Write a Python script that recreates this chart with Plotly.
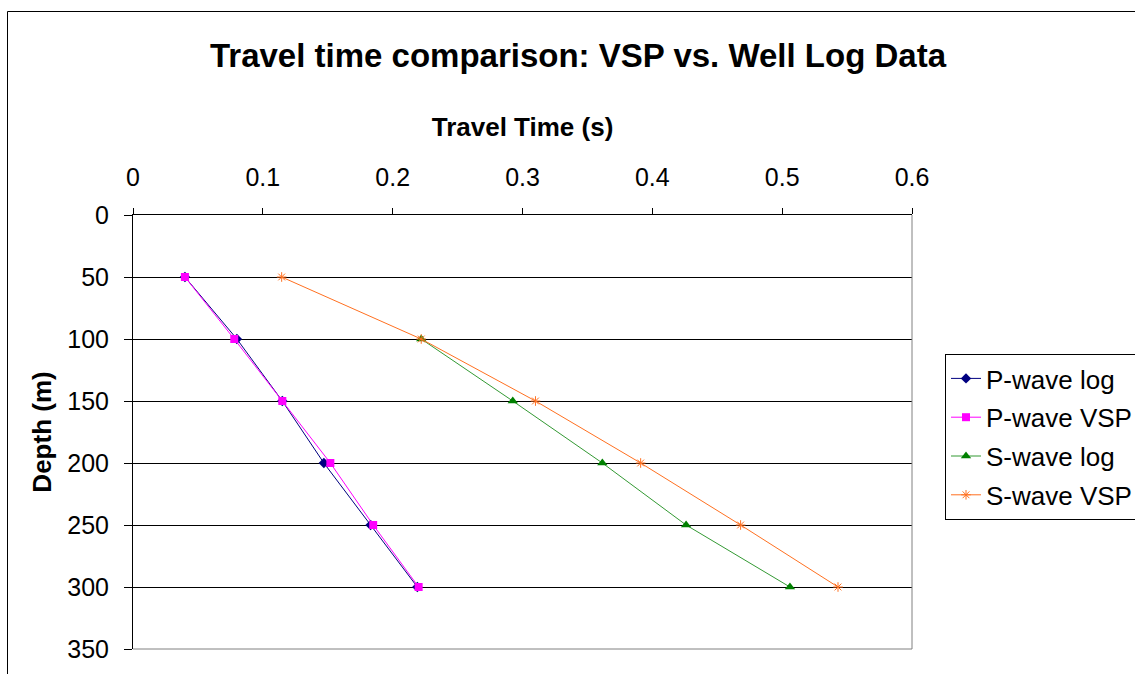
import plotly.graph_objects as go

depth = [50, 100, 150, 200, 250, 300]
depth_s_log = [100, 150, 200, 250, 300]

p_log = [0.040, 0.080, 0.115, 0.147, 0.183, 0.219]
p_vsp = [0.040, 0.078, 0.115, 0.152, 0.185, 0.220]
s_log = [0.222, 0.2925, 0.3615, 0.426, 0.506]
s_vsp = [0.1145, 0.222, 0.310, 0.391, 0.468, 0.543]

x_ticks = [0, 0.1, 0.2, 0.3, 0.4, 0.5, 0.6]
x_tick_text = ["0", "0.1", "0.2", "0.3", "0.4", "0.5", "0.6"]
y_ticks = [0, 50, 100, 150, 200, 250, 300, 350]

FONT = "Liberation Sans, Arial, sans-serif"

W, H = 1135, 674
ML, MR, MT, MB = 133, 223, 215, 25
PW, PH = W - ML - MR, H - MT - MB


def px_to_paper_x(px):
    return (px - ML) / PW


def px_to_paper_y(py):
    return (H - MB - py) / PH


fig = go.Figure()

fig.add_trace(go.Scatter(
    x=p_log, y=depth, name="P-wave log", mode="lines+markers",
    line=dict(color="#000080", width=1),
    marker=dict(symbol="diamond", size=8, color="#000080"),
    legendgroup="a"))
fig.add_trace(go.Scatter(
    x=p_vsp, y=depth, name="P-wave VSP", mode="lines+markers",
    line=dict(color="#FF00FF", width=1),
    marker=dict(symbol="square", size=8, color="#FF00FF"),
    legendgroup="b"))
fig.add_trace(go.Scatter(
    x=s_log, y=depth_s_log, name="S-wave log", mode="lines+markers",
    line=dict(color="#339933", width=1),
    marker=dict(symbol="triangle-up", size=9, color="#008000"),
    legendgroup="c"))
fig.add_trace(go.Scatter(
    x=s_vsp, y=depth, name="S-wave VSP", mode="lines+markers",
    line=dict(color="#FF7020", width=1),
    marker=dict(symbol="asterisk-open", size=8, color="#FF7020",
                line=dict(color="#FF7020", width=1)),
    legendgroup="d"))

fig.update_layout(
    width=W, height=H,
    margin=dict(l=ML, r=MR, t=MT, b=MB, autoexpand=False),
    paper_bgcolor="white", plot_bgcolor="white",
    font=dict(family=FONT, color="black", size=25),
    title=dict(text="<b>Travel time comparison: VSP vs. Well Log Data</b>",
               font=dict(family=FONT, size=33, color="black"),
               xref="paper", x=px_to_paper_x(578), xanchor="center",
               yref="container", y=1 - 55 / H, yanchor="middle"),
    xaxis=dict(
        side="top", range=[0, 0.6], tickvals=x_ticks, ticktext=x_tick_text,
        showgrid=False, zeroline=False, showline=True, linecolor="black",
        linewidth=1, ticks="outside", ticklen=6, tickcolor="black",
        tickfont=dict(size=25, family=FONT), ticklabelstandoff=12,
        title=dict(text="<b>Travel Time (s)</b>", font=dict(size=26, family=FONT),
                   standoff=18),
        automargin=False,
    ),
    yaxis=dict(
        range=[350, 0], tickvals=y_ticks,
        showgrid=True, gridcolor="black", gridwidth=1,
        zeroline=False, showline=True, linecolor="black", linewidth=1,
        ticks="outside", ticklen=8, tickcolor="black",
        tickfont=dict(size=25, family=FONT), ticklabelstandoff=10,
        title=dict(text="<b>Depth (m)</b>", font=dict(size=26, family=FONT),
                   standoff=8),
        automargin=False,
    ),
    legend=dict(
        x=px_to_paper_x(945), y=px_to_paper_y(354), xanchor="left", yanchor="top",
        bordercolor="black", borderwidth=1, bgcolor="white",
        font=dict(size=26, family=FONT), traceorder="grouped",
        tracegroupgap=2, itemwidth=30,
    ),
    showlegend=True,
)

# plot-area border (gray) on right and bottom
fig.add_shape(type="line", xref="paper", yref="paper", x0=1, x1=1, y0=0, y1=1,
              line=dict(color="#808080", width=1), layer="above")
fig.add_shape(type="line", xref="paper", yref="paper", x0=0, x1=1, y0=0, y1=0,
              line=dict(color="#808080", width=1), layer="above")
# chart outer border
fig.add_shape(type="rect", xref="paper", yref="paper",
              x0=px_to_paper_x(7.5), x1=px_to_paper_x(1145),
              y0=px_to_paper_y(690), y1=px_to_paper_y(11.5),
              line=dict(color="black", width=1), fillcolor="rgba(0,0,0,0)",
              layer="below")

fig.write_html("out.html")
